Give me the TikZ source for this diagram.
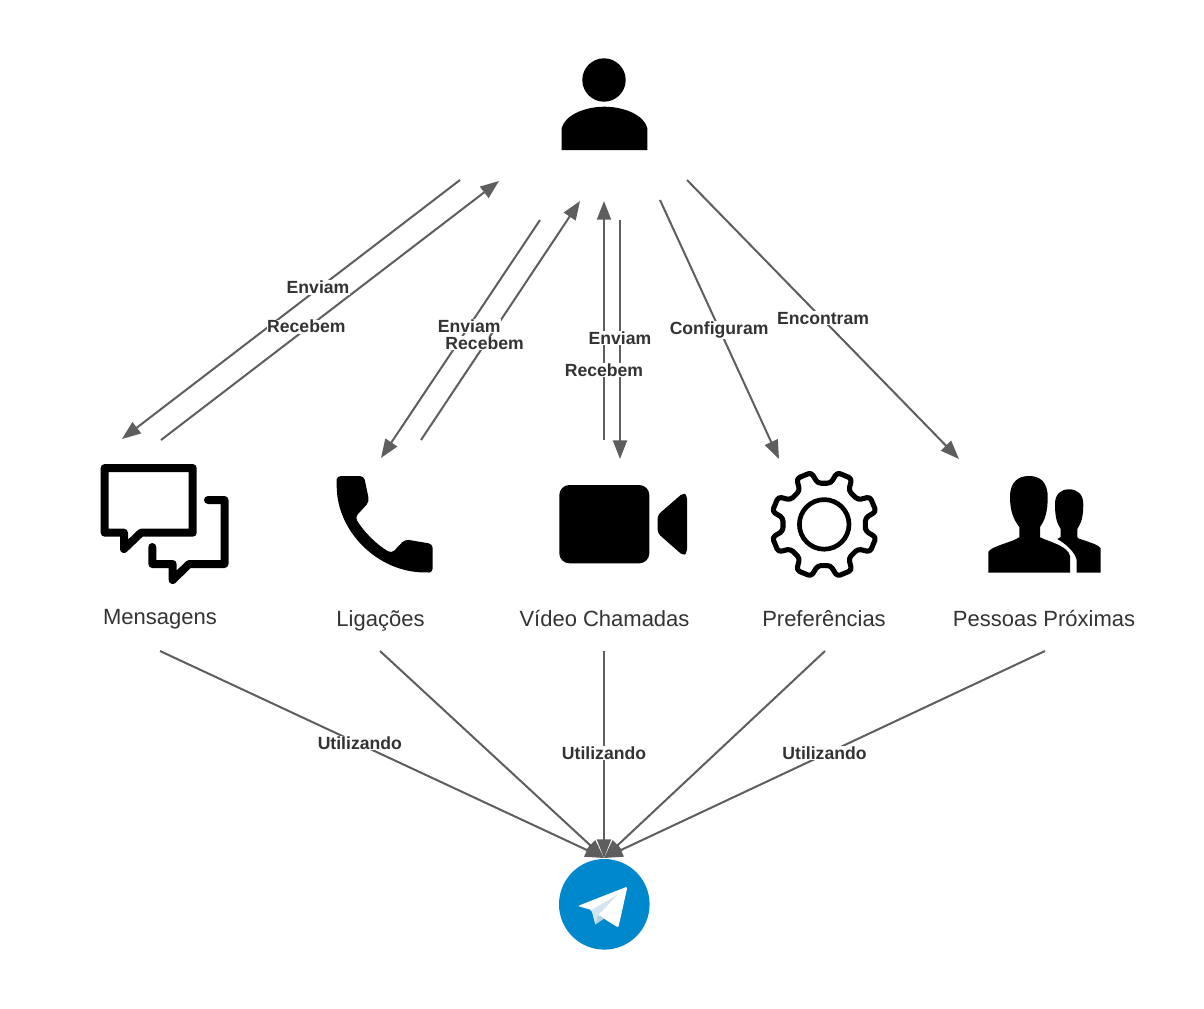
\documentclass[tikz,border=0pt]{standalone}
\usepackage{fontspec}
\setmainfont{Liberation Sans}
\usetikzlibrary{arrows.meta}
\definecolor{linegrey}{HTML}{5E5E5E}
\definecolor{textgrey}{HTML}{333333}
\definecolor{tgblue}{HTML}{0088CC}
\definecolor{tgfold}{HTML}{D2E4F1}
\definecolor{tgdark}{HTML}{B5CFE4}
\tikzset{
  link/.style={draw=linegrey,line width=1.5pt,-{Triangle[length=14pt,width=10.5pt]}},
  lbl/.style={fill=white,inner sep=0.5pt,text=textgrey,font=\fontsize{13.2pt}{14pt}\selectfont\bfseries},
  caption/.style={text=textgrey,inner sep=0pt,anchor=base,font=\fontsize{16.5pt}{19pt}\selectfont},
  iconline/.style={draw=black,line width=6pt,line join=round,line cap=round},
  iconfill/.style={fill=black}
}
\begin{document}
\begin{tikzpicture}[x=0.75pt,y=-0.75pt]
\path[use as bounding box,fill=white] (0,0) rectangle (1204,1008);

% user icon
\fill[iconfill] (604,80) circle[radius=21.7];
\fill[iconfill] (561.7,150) -- (561.7,128) .. controls (565,115) and (585,106.7) .. (604.5,106.7)
  .. controls (624,106.7) and (644,115) .. (647.3,128) -- (647.3,150) -- cycle;

% message icon
\draw[iconline] (104.7,468) -- (192.7,468) -- (192.7,532.7) -- (141,532.7) -- (124,549) -- (124,532.7) -- (104.7,532.7) -- cycle;
\draw[iconline] (208,500) -- (224.5,500) -- (224.5,564) -- (189,564) -- (172.7,580) -- (172.7,564) -- (152.3,564) -- (152.3,547);

% phone icon
\fill[iconfill,rounded corners=3pt] (350,476) -- (364,476) -- (369.3,501.7) -- (355,517.3)
  .. controls (364,532) and (377,545) .. (391.7,553.3) -- (405,539.3) -- (432.7,544) -- (432.7,572.5) -- (428.3,572.5)
  .. controls (377,572) and (336.7,531) .. (336.7,482) -- (336.7,476) -- cycle;

% video icon
\fill[iconfill,rounded corners=7.5pt] (559.3,485) rectangle (649.3,563.3);
\fill[iconfill,rounded corners=2.5pt] (657.7,515) -- (683,493) -- (687,495) -- (687,553) -- (683,555.5) -- (657.7,533.3) -- cycle;

% gear icon
\begin{scope}[shift={(824.2,524.4)}]
  \draw[black,line width=3.5pt] (0,0) circle[radius=24.8];
  \draw[black,line width=3.8pt,rounded corners=2.5pt,line join=round]
    (9:41.7) \foreach \a in {22.5,67.5,...,337.5}{
      -- (\a-13.5:41.7) -- (\a-8.5:53.5) -- (\a+8.5:53.5) -- (\a+13.5:41.7)
    } -- cycle;
\end{scope}

% people icon
\fill[iconfill] (988.3,572.7) -- (988.3,551.7) .. controls (992,546) and (1010,543) .. (1019.3,537.3)
  -- (1019.3,527) .. controls (1014,520) and (1010,512) .. (1010,497)
  .. controls (1010,482) and (1018,476) .. (1029,476)
  .. controls (1040,476) and (1047.7,482) .. (1047.7,497)
  .. controls (1047.7,512) and (1045,520) .. (1040,527)
  -- (1040,537.3) .. controls (1050,542) and (1068,546) .. (1070,556) -- (1070,572.7) -- cycle;
\fill[iconfill] (1076.7,572.7) -- (1076.7,560) .. controls (1075,552) and (1066,544) .. (1057.3,539)
  -- (1060.7,537) -- (1060.7,529) .. controls (1057,523) and (1055,518) .. (1055,504)
  .. controls (1055,494) and (1061,489.3) .. (1069,489.3)
  .. controls (1077,489.3) and (1083.3,494) .. (1083.3,504)
  .. controls (1083.3,518) and (1081,523) .. (1077.3,529)
  -- (1077.3,537) -- (1078.3,538.3) .. controls (1085,541) and (1098,544) .. (1100.7,548.3) -- (1100.7,572.7) -- cycle;

% telegram icon
\fill[tgblue] (604.3,904.3) circle[radius=45.3];
\fill[white,rounded corners=1.5pt] (577.7,906) -- (627.5,886.5) -- (618.3,927.7) -- (598.3,915) -- (595.5,924.5) -- (591.7,910) -- cycle;
\fill[tgfold] (591.7,910) -- (617,895) -- (598.3,915) -- (595.5,924.5) -- cycle;
\fill[tgdark] (595.5,924.5) -- (598.3,915) -- (604,918.7) -- cycle;

% captions
\node[caption] (msg) at (160,624) {Mensagens};
\node[caption] (call) at (380.5,626.7) {Ligações};
\node[caption] (video) at (604.5,626.7) {Vídeo Chamadas};
\node[caption] (prefs) at (824,626.7) {Preferências};
\node[caption] (near) at (1044,626.7) {Pessoas Próximas};

% connector ends
\coordinate (uA) at (460,180);
\coordinate (uB) at (499,181);
\coordinate (uC) at (540,220);
\coordinate (uD) at (580,201);
\coordinate (uE) at (604,201);
\coordinate (uF) at (620,220);
\coordinate (uG) at (660,200);
\coordinate (uH) at (687,180);
\coordinate (mA) at (122,439);
\coordinate (mB) at (161,440);
\coordinate (cA) at (381,458);
\coordinate (cB) at (421,440);
\coordinate (vA) at (604,440);
\coordinate (vB) at (620,459);
\coordinate (pA) at (779,459);
\coordinate (nA) at (959,459);
\coordinate (tg) at (604,858);
\coordinate (bA) at (160,651);
\coordinate (bB) at (380,651);
\coordinate (bC) at (604,651);
\coordinate (bD) at (825,651);
\coordinate (bE) at (1045,651);

% connectors
\draw[link] (uA) -- (mA);
\draw[link] (mB) -- (uB);
\draw[link] (uC) -- (cA);
\draw[link] (cB) -- (uD);
\draw[link] (vA) -- (uE);
\draw[link] (uF) -- (vB);
\draw[link] (uG) -- (pA);
\draw[link] (uH) -- (nA);
\draw[link] (bA) -- (tg);
\draw[link] (bB) -- (tg);
\draw[link] (bC) -- (tg);
\draw[link] (bD) -- (tg);
\draw[link] (bE) -- (tg);

% connector labels, above every line
\path (uA) -- (mA) node[lbl,pos=.42,yshift=1pt] (l1) {Enviam};
\path (mB) -- (uB) node[lbl,pos=.43,yshift=1.5pt] (l2) {Recebem};
\path (uC) -- (cA) node[lbl,pos=.445] (l3) {Enviam};
\path (cB) -- (uD) node[lbl,pos=.4,yshift=1pt] (l4) {Recebem};
\path (vA) -- (uE) node[lbl,pos=.293] (l5) {Recebem};
\path (uF) -- (vB) node[lbl,pos=.494] (l6) {Enviam};
\path (uG) -- (pA) node[lbl,pos=.497,yshift=-1pt] (l7) {Configuram};
\path (uH) -- (nA) node[lbl,pos=.5,yshift=1pt] (l8) {Encontram};
\path (bA) -- (tg) node[lbl,pos=.45,yshift=1pt] (l9) {Utilizando};
\path (bC) -- (tg) node[lbl,pos=.493] (l10) {Utilizando};
\path (bE) -- (tg) node[lbl,pos=.5,yshift=1pt] (l11) {Utilizando};
\end{tikzpicture}
\end{document}
